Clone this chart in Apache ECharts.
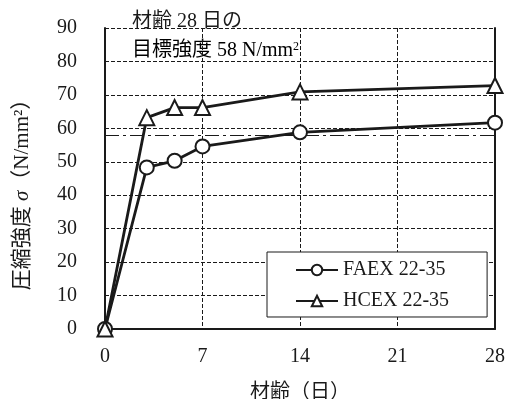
<!DOCTYPE html>
<html>
<head>
<meta charset="utf-8">
<script src="https://cdn.jsdelivr.net/npm/echarts@6/dist/echarts.min.js"></script>
<style>
  html, body { margin: 0; padding: 0; background: #fff; }
  #chart { width: 509px; height: 399px; }
</style>
</head>
<body>
<div id="chart"></div>
<script>
// Compressive strength development by age
const ages = [0, 3, 5, 7, 14, 28];
const faexValues = [0, 48.3, 50.3, 54.6, 58.8, 61.7];
const hcexValues = [0, 63.2, 66.2, 66.2, 70.9, 72.8];
const seriesNames = ['FAEX 22-35', 'HCEX 22-35'];
const targetStrength = 58;
const xTicks = [0, 7, 14, 21, 28];
const yTicks = [0, 10, 20, 30, 40, 50, 60, 70, 80, 90];

const FONT = '"Liberation Serif", "Noto Sans CJK JP", serif';
const INK = '#1a1a1a';
const FS = 20;

const pairs = vals => ages.map((a, i) => [a, vals[i]]);

const chart = echarts.init(document.getElementById('chart'), null, { renderer: 'canvas' });

const gridDash = { color: INK, width: 1, type: [4, 2] };

chart.setOption({
  animation: false,
  backgroundColor: '#fff',
  textStyle: { fontFamily: FONT, color: INK },
  grid: { left: 105, right: 14, top: 28, bottom: 70, outerBoundsMode: 'none', containLabel: false },
  legend: {
    left: 267, top: 252,
    orient: 'vertical',
    backgroundColor: '#fff',
    borderColor: INK, borderWidth: 1,
    padding: [8, 38, 6, 28],
    itemWidth: 42, itemHeight: 13, itemGap: 11,
    textStyle: { fontFamily: FONT, fontSize: FS, color: INK },
    data: seriesNames
  },
  xAxis: {
    type: 'value', min: xTicks[0], max: xTicks[xTicks.length - 1], interval: 7,
    name: '材齢（日）', nameLocation: 'middle', nameGap: 54,
    nameTextStyle: { fontFamily: FONT, fontSize: FS, color: INK, padding: [0, 0, 0, 0] },
    axisLine: { lineStyle: { color: INK, width: 2 } },
    axisTick: { show: false },
    axisLabel: { fontFamily: FONT, fontSize: FS, color: INK, margin: 18 },
    splitLine: { show: true, lineStyle: gridDash }
  },
  yAxis: [{
    type: 'value', min: yTicks[0], max: yTicks[yTicks.length - 1], interval: 10,
    name: '{a|圧縮強度 }{s|σ}{a|（N/mm²）}', nameLocation: 'middle', nameGap: 72, nameRotate: 90,
    nameTextStyle: {
      padding: [0, 22, 0, 0],
      rich: {
        a: { fontFamily: FONT, fontSize: FS + 1, color: INK },
        s: { fontFamily: FONT, fontSize: FS + 1, color: INK, fontStyle: 'italic' }
      }
    },
    axisLine: { show: true, lineStyle: { color: INK, width: 2 } },
    axisTick: { show: false },
    axisLabel: { fontFamily: FONT, fontSize: FS, color: INK, margin: 28 },
    splitLine: { show: true, lineStyle: gridDash }
  }, {
    type: 'value', min: yTicks[0], max: yTicks[yTicks.length - 1], interval: 10,
    position: 'right',
    axisLine: { show: true, lineStyle: { color: INK, width: 2 } },
    axisTick: { show: false }, axisLabel: { show: false }, splitLine: { show: false }
  }],
  graphic: [{
    type: 'group', left: 116, top: 0, z: 50,
    children: [
      { type: 'rect', shape: { x: 0, y: 0, width: 223, height: 64 }, style: { fill: '#fff' } },
      { type: 'text', x: 16, y: 22, style: {
          text: '材齢 28 日の', font: FS + 'px ' + FONT, fill: INK, verticalAlign: 'middle'
        } },
      { type: 'text', x: 16, y: 51, style: {
          text: '{a|目標強度 ' + targetStrength + ' N/mm}{sup|2}',
          verticalAlign: 'middle',
          rich: {
            a: { fontFamily: FONT, fontSize: FS, color: INK },
            sup: { fontFamily: FONT, fontSize: 12, color: INK, padding: [0, 0, 9, 0] }
          }
        } }
    ]
  }],
  series: [{
    name: seriesNames[0], type: 'line', data: pairs(faexValues),
    symbol: 'emptyCircle', symbolSize: 14,
    lineStyle: { color: INK, width: 2.8 },
    itemStyle: { color: INK, borderColor: INK, borderWidth: 1.3 },
    markLine: {
      silent: true, symbol: 'none', label: { show: false },
      lineStyle: { color: INK, width: 1, type: [14, 4, 3, 4] },
      data: [{ yAxis: targetStrength }]
    },
    z: 5
  }, {
    name: seriesNames[1], type: 'line', data: pairs(hcexValues),
    symbol: 'emptyTriangle', symbolSize: 15,
    lineStyle: { color: INK, width: 2.8 },
    itemStyle: { color: INK, borderColor: INK, borderWidth: 1.3 },
    z: 5
  }]
});
</script>
</body>
</html>
